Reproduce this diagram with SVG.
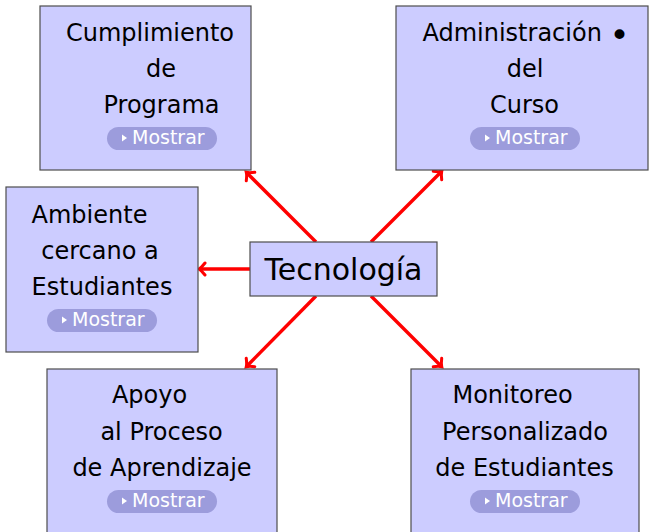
<svg xmlns="http://www.w3.org/2000/svg" width="649" height="532" viewBox="0 0 649 532">
<defs>
<style>
.box{fill:#ccccff;stroke:#4d4d4d;stroke-width:1.2}
.t{font-family:"DejaVu Sans",sans-serif;font-size:24px;fill:#000;text-anchor:middle}
.pill{fill:#9c9cdc}
.pt{font-family:"DejaVu Sans",sans-serif;font-size:19px;fill:#fff}
.tri{fill:#fff}
.c{stroke:#ff0000;stroke-width:3.4;fill:none;marker-end:url(#ah)}
</style>
<marker id="ah" markerUnits="userSpaceOnUse" viewBox="-8 -8 12 16" markerWidth="12" markerHeight="16" refX="0" refY="0" orient="auto">
<path d="M-5,-6 Q-1.5,-1.5 1,0 Q-1.5,1.5 -5,6" fill="none" stroke="#ff0000" stroke-width="3" stroke-linecap="round"/>
</marker>
</defs>
<rect width="649" height="532" fill="#fff"/>
<g id="connectors">
<line class="c" x1="316" y1="242" x2="247" y2="173"/>
<line class="c" x1="371" y1="242" x2="441" y2="172"/>
<line class="c" x1="250" y1="269" x2="200" y2="269"/>
<line class="c" x1="316" y1="296" x2="247" y2="366"/>
<line class="c" x1="371" y1="296" x2="441" y2="366"/>
</g>
<g id="cumplimiento">
<rect class="box" x="40" y="6" width="211" height="164"/>
<text class="t" x="150" y="41">Cumplimiento</text>
<text class="t" x="161" y="77">de</text>
<text class="t" x="161.5" y="113">Programa</text>
<rect class="pill" x="107" y="127" width="110" height="23" rx="11.5"/>
<polygon class="tri" points="122,134.5 127,138 122,141.5"/>
<text class="pt" x="132" y="144">Mostrar</text>
</g>
<g id="administracion">
<rect class="box" x="396" y="6" width="252" height="164"/>
<text class="t" x="526" y="41">Administración <tspan style="font-size:34px" dy="6">•</tspan></text>
<text class="t" x="525" y="77">del</text>
<text class="t" x="524.5" y="113">Curso</text>
<rect class="pill" x="470" y="127" width="110" height="23" rx="11.5"/>
<polygon class="tri" points="485,134.5 490,138 485,141.5"/>
<text class="pt" x="495" y="144">Mostrar</text>
</g>
<g id="ambiente">
<rect class="box" x="6" y="187" width="192" height="165"/>
<text class="t" x="89.5" y="223">Ambiente</text>
<text class="t" x="100" y="259">cercano a</text>
<text class="t" x="102" y="295">Estudiantes</text>
<rect class="pill" x="47" y="309" width="110" height="23" rx="11.5"/>
<polygon class="tri" points="62,316.5 67,320 62,323.5"/>
<text class="pt" x="72" y="326">Mostrar</text>
</g>
<g id="tecnologia">
<rect class="box" x="250" y="242" width="187" height="54"/>
<text class="t" x="343.5" y="280" style="font-size:30px">Tecnología</text>
</g>
<g id="apoyo">
<rect class="box" x="47" y="369" width="230" height="170"/>
<text class="t" x="149.5" y="403">Apoyo</text>
<text class="t" x="161.5" y="440">al Proceso</text>
<text class="t" x="162" y="476">de Aprendizaje</text>
<rect class="pill" x="107" y="490" width="110" height="23" rx="11.5"/>
<polygon class="tri" points="122,497.5 127,501 122,504.5"/>
<text class="pt" x="132" y="507">Mostrar</text>
</g>
<g id="monitoreo">
<rect class="box" x="411" y="369" width="228" height="170"/>
<text class="t" x="512.5" y="403">Monitoreo</text>
<text class="t" x="525" y="440">Personalizado</text>
<text class="t" x="524.5" y="476">de Estudiantes</text>
<rect class="pill" x="470" y="490" width="110" height="23" rx="11.5"/>
<polygon class="tri" points="485,497.5 490,501 485,504.5"/>
<text class="pt" x="495" y="507">Mostrar</text>
</g>
</svg>
